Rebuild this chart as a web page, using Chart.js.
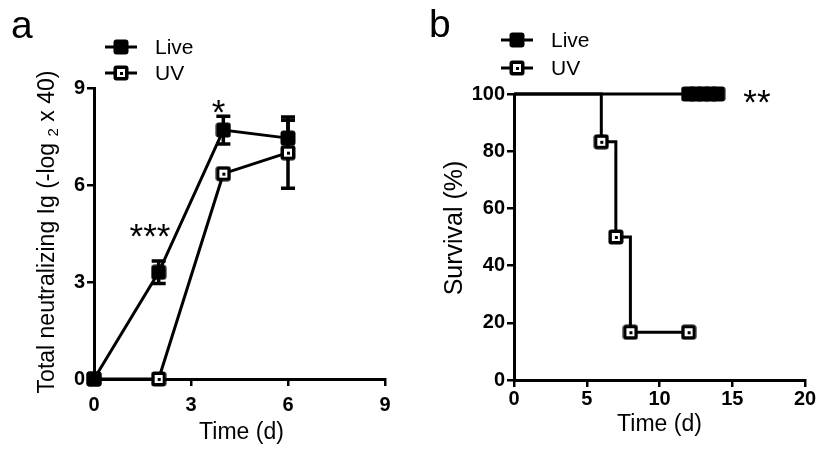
<!DOCTYPE html>
<html>
<head>
<meta charset="utf-8">
<script src="https://cdn.jsdelivr.net/npm/chart.js@4/dist/chart.umd.min.js"></script>
<style>
    body { margin: 0; background: #fff; }
    .panel { position: absolute; top: 0; height: 456px; }
    #panelA { left: 0; width: 420px; }
    #panelB { left: 420px; width: 401px; }
</style>
</head>
<body>
<div class="panel" id="panelA"><canvas id="titerChart"></canvas></div>
<div class="panel" id="panelB"><canvas id="survivalChart"></canvas></div>
<script>
// Panel a - neutralizing antibody titre
const titerTimes = [0, 2, 4, 6];
const liveTiter = [0, 3.3, 7.7, 7.45];
const liveTiterErr = [0, 0.35, 0.43, 0.55];
const uvTiter = [0, 0, 6.35, 7.0];
const uvTiterErr = [0, 0, 0, 1.1];
const titerTicks = [0, 3, 6, 9];

// Panel b - survival
const liveSurvTimes = [0, 12, 12.5, 13, 13.5, 14];
const liveSurvival = [100, 100, 100, 100, 100, 100];
const uvSurvTimes = [0, 6, 7, 8, 12];
const uvSurvival = [100, 83.3, 50, 16.7, 16.7];
const survTimeTicks = [0, 5, 10, 15, 20];
const survTicks = [0, 20, 40, 60, 80, 100];

// significance marks (data coordinates)
const sigA = [
    { text: '***', x: 1.73, y: 4.67 },
    { text: '*', x: 3.85, y: 8.5 }
];
const sigB = [{ text: '**', x: 16.7, y: 100 }];

const FONT = '"Liberation Sans", Arial, sans-serif';

// Marker images (filled / open square)
function makeMarker(filled) {
    const c = document.createElement('canvas');
    c.width = 16; c.height = 16;
    const g = c.getContext('2d');
    g.fillStyle = '#000';
    g.beginPath();
    g.roundRect(0.5, 0.5, 15, 15, 3);
    g.fill();
    if (!filled) {
        g.fillStyle = '#fff';
        g.fillRect(4, 4, 8, 8);
        g.fillStyle = '#000';
        g.fillRect(7, 7, 3, 3);
    }
    return c;
}
const filledMarker = makeMarker(true);
const openMarker = makeMarker(false);

function toPoints(xs, ys) {
    return xs.map((x, i) => ({ x: x, y: ys[i] }));
}

function axisOptions(min, max, tickValues, fit, pad) {
    return {
        type: 'linear',
        min: min,
        max: max,
        afterBuildTicks: scale => { scale.ticks = tickValues.map(v => ({ value: v })); },
        afterFit: fit,
        ticks: {
            color: '#000',
            font: { family: FONT, size: 20, weight: 'bold' },
            padding: pad
        },
        grid: {
            drawOnChartArea: false,
            drawTicks: true,
            tickLength: 7,
            color: '#000',
            lineWidth: 2.5
        },
        border: { display: true, color: '#000', width: 3 }
    };
}

function drawLegend(ctx, x, y, marker, label) {
    ctx.save();
    ctx.strokeStyle = '#000';
    ctx.lineWidth = 3;
    ctx.beginPath();
    ctx.moveTo(x - 16, y);
    ctx.lineTo(x + 16, y);
    ctx.stroke();
    ctx.drawImage(marker, x - 8, y - 8);
    ctx.fillStyle = '#000';
    ctx.font = '21px ' + FONT;
    ctx.textBaseline = 'middle';
    ctx.textAlign = 'left';
    ctx.fillText(label, x + 34, y + 1);
    ctx.restore();
}

function drawSig(chart, marks) {
    const { ctx, scales: { x, y } } = chart;
    ctx.save();
    ctx.fillStyle = '#000';
    ctx.font = '35px ' + FONT;
    ctx.textAlign = 'center';
    ctx.textBaseline = 'alphabetic';
    marks.forEach(m => {
        ctx.fillText(m.text, x.getPixelForValue(m.x), y.getPixelForValue(m.y) + 20);
    });
    ctx.restore();
}

function drawText(ctx, text, x, y, font, rotate) {
    ctx.save();
    ctx.translate(x, y);
    if (rotate) ctx.rotate(-Math.PI / 2);
    ctx.fillStyle = '#000';
    ctx.font = font;
    ctx.textAlign = 'center';
    ctx.textBaseline = 'middle';
    ctx.fillText(text, 0, 0);
    ctx.restore();
}

// Error bars + annotations for panel a
const titerPlugin = {
    id: 'titerPlugin',
    beforeDatasetsDraw(chart) {
        const { ctx, scales: { x, y } } = chart;
        ctx.save();
        ctx.strokeStyle = '#000';
        [[liveTiter, liveTiterErr], [uvTiter, uvTiterErr]].forEach(([means, errs]) => {
            titerTimes.forEach((t, i) => {
                if (!errs[i]) return;
                const px = x.getPixelForValue(t);
                const top = y.getPixelForValue(means[i] + errs[i]);
                const bottom = y.getPixelForValue(means[i] - errs[i]);
                ctx.lineWidth = 3.5;
                ctx.beginPath();
                ctx.moveTo(px, top);
                ctx.lineTo(px, bottom);
                ctx.moveTo(px - 7, top);
                ctx.lineTo(px + 7, top);
                ctx.moveTo(px - 7, bottom);
                ctx.lineTo(px + 7, bottom);
                ctx.stroke();
            });
        });
        ctx.restore();
    },
    afterDraw(chart) {
        const ctx = chart.ctx;
        ctx.save();
        ctx.fillStyle = '#000';
        ctx.font = '39px ' + FONT;
        ctx.textBaseline = 'alphabetic';
        ctx.fillText('a', 11, 38);
        ctx.restore();

        drawLegend(ctx, 121, 47, filledMarker, 'Live');
        drawLegend(ctx, 121, 73, openMarker, 'UV');
        drawSig(chart, sigA);

        const area = chart.chartArea;
        drawText(ctx, 'Time (d)', (area.left + area.right) / 2 + 2, 433, '23px ' + FONT, false);

        // y title with subscript 2
        ctx.save();
        ctx.translate(46, 232);
        ctx.rotate(-Math.PI / 2);
        ctx.fillStyle = '#000';
        const big = '23px ' + FONT, small = '15px ' + FONT;
        const p1 = 'Total neutralizing Ig (-log ', p2 = '2', p3 = ' x 40)';
        ctx.font = big;
        const w1 = ctx.measureText(p1).width, w3 = ctx.measureText(p3).width;
        ctx.font = small;
        const w2 = ctx.measureText(p2).width;
        let cx = -(w1 + w2 + w3) / 2;
        ctx.textBaseline = 'alphabetic';
        ctx.font = big;
        ctx.fillText(p1, cx, 8);
        cx += w1;
        ctx.font = small;
        ctx.fillText(p2, cx, 12);
        cx += w2;
        ctx.font = big;
        ctx.fillText(p3, cx, 8);
        ctx.restore();
    }
};

const survivalPlugin = {
    id: 'survivalPlugin',
    afterDraw(chart) {
        const ctx = chart.ctx;
        ctx.save();
        ctx.fillStyle = '#000';
        ctx.font = '39px ' + FONT;
        ctx.textBaseline = 'alphabetic';
        ctx.fillText('b', 9, 37);
        ctx.restore();

        drawLegend(ctx, 97, 40, filledMarker, 'Live');
        drawLegend(ctx, 97, 68, openMarker, 'UV');
        drawSig(chart, sigB);

        const area = chart.chartArea;
        drawText(ctx, 'Time (d)', (area.left + area.right) / 2, 425, '23px ' + FONT, false);
        drawText(ctx, 'Survival (%)', 35, 228, '25px ' + FONT, true);
    }
};

// Panel a chart
new Chart(document.getElementById('titerChart'), {
    type: 'line',
    data: {
        datasets: [
            {
                label: 'Live',
                data: toPoints(titerTimes, liveTiter),
                borderColor: '#000',
                borderWidth: 3,
                pointStyle: filledMarker,
                pointRadius: 8,
                clip: false
            },
            {
                label: 'UV',
                data: toPoints(titerTimes, uvTiter),
                borderColor: '#000',
                borderWidth: 3,
                pointStyle: openMarker,
                pointRadius: 8,
                clip: false
            }
        ]
    },
    options: {
        responsive: true,
        maintainAspectRatio: false,
        animation: false,
        events: [],
        layout: { padding: { top: 88, right: 35, left: 0, bottom: 0 } },
        plugins: { legend: { display: false }, tooltip: { enabled: false } },
        scales: {
            x: axisOptions(0, 9, titerTicks, s => { s.height = 77; }, 7),
            y: axisOptions(0, 9, titerTicks, s => { s.width = 94; }, 2)
        }
    },
    plugins: [titerPlugin]
});

// Panel b chart
new Chart(document.getElementById('survivalChart'), {
    type: 'line',
    data: {
        datasets: [
            {
                label: 'Live',
                data: toPoints(liveSurvTimes, liveSurvival),
                borderColor: '#000',
                borderWidth: 3,
                pointStyle: filledMarker,
                pointRadius: liveSurvTimes.map((t, i) => i === 0 ? 0 : 8),
                stepped: true,
                clip: false
            },
            {
                label: 'UV',
                data: toPoints(uvSurvTimes, uvSurvival),
                borderColor: '#000',
                borderWidth: 3,
                pointStyle: uvSurvTimes.map((t, i) => i === 0 ? false : openMarker),
                pointRadius: uvSurvTimes.map((t, i) => i === 0 ? 0 : 8),
                stepped: true,
                clip: false
            }
        ]
    },
    options: {
        responsive: true,
        maintainAspectRatio: false,
        animation: false,
        events: [],
        layout: { padding: { top: 94, right: 16, left: 0, bottom: 0 } },
        plugins: { legend: { display: false }, tooltip: { enabled: false } },
        scales: {
            x: axisOptions(0, 20, survTimeTicks, s => { s.height = 76; }, 0),
            y: axisOptions(0, 100, survTicks, s => { s.width = 94; }, 2)
        }
    },
    plugins: [survivalPlugin]
});
</script>
</body>
</html>
